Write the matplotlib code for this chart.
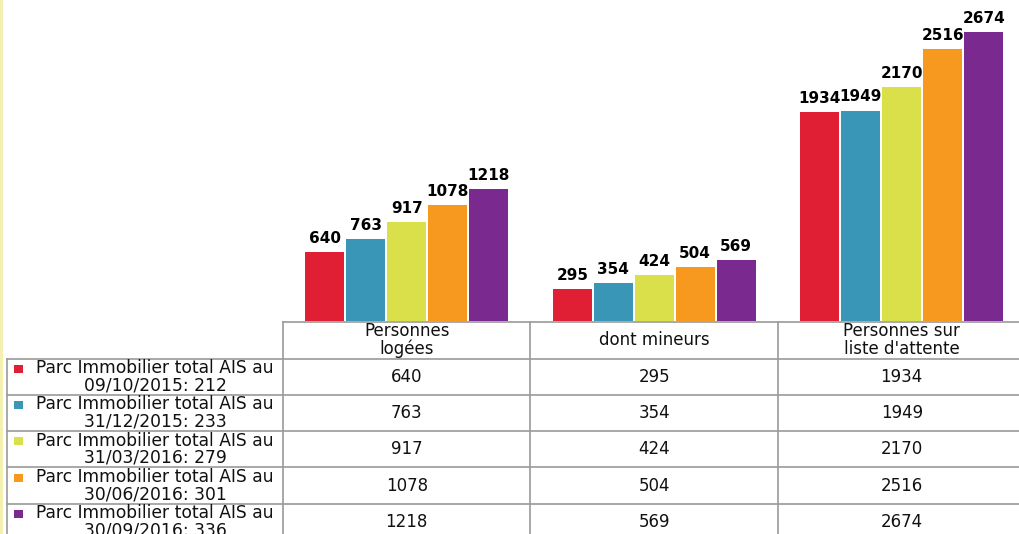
import matplotlib.pyplot as plt
from matplotlib.patches import Rectangle

# données
categories = ["Personnes\nlogées", "dont mineurs", "Personnes sur\nliste d'attente"]
series = [
    "Parc Immobilier total AIS au\n09/10/2015: 212",
    "Parc Immobilier total AIS au\n31/12/2015: 233",
    "Parc Immobilier total AIS au\n31/03/2016: 279",
    "Parc Immobilier total AIS au\n30/06/2016: 301",
    "Parc Immobilier total AIS au\n30/09/2016: 336",
]
logees = [640, 763, 917, 1078, 1218]
mineurs = [295, 354, 424, 504, 569]
attente = [1934, 1949, 2170, 2516, 2674]
colors = ["#E01F35", "#3A96B7", "#D9E04A", "#F7981F", "#7A2A8E"]

values = [[a, b, c] for a, b, c in zip(logees, mineurs, attente)]

# mise en page (pixels)
W, H = 1019, 534
X0, COLW, BASE = 283, 247.5, 321
SCALE = 0.108          # px par unité
YMAX = 2900
ROW0, ROWH = 358.5, 36.3
LEFT = 7.5
GRID = "#9a9a9a"

fig = plt.figure(figsize=(W / 100, H / 100), dpi=100)

# ---- barres ----
ax = fig.add_axes([X0 / W, (H - BASE) / H, 3 * COLW / W, YMAX * SCALE / H])
slot = 41 / COLW
bw = 39 / COLW
for j, (vals, c) in enumerate(zip(values, colors)):
    xs = [i + 0.5 + (j - 2) * slot for i in range(3)]
    bars = ax.bar(xs, vals, width=bw, color=c, linewidth=0)
    for b, v in zip(bars, vals):
        ax.annotate(str(v), (b.get_x() + b.get_width() / 2, v), xytext=(0, 6.5),
                    textcoords="offset points", ha="center", va="baseline",
                    fontsize=11, fontweight="bold", color="#000000")
ax.set_xlim(0, 3)
ax.set_ylim(0, YMAX)
ax.axis("off")

# ---- tableau de données ----
tab = fig.add_axes([0, 0, 1, 1])
tab.set_xlim(0, W)
tab.set_ylim(H, 0)
tab.axis("off")
tab.patch.set_alpha(0)

# bande jaune à gauche
tab.add_patch(Rectangle((0, 0), 3.5, H, color="#F4F1B0", lw=0))

# grille
tab.plot([X0, W], [BASE + 1, BASE + 1], color=GRID, lw=1.2)
for k in range(len(series)):
    y = ROW0 + k * ROWH
    tab.plot([LEFT, W], [y, y], color=GRID, lw=1.2)
for i in range(3):
    x = X0 + i * COLW
    tab.plot([x, x], [BASE + 1, H], color=GRID, lw=1.2)
tab.plot([LEFT, LEFT], [ROW0, H], color=GRID, lw=1.2)

# en-têtes de colonnes
for i, cat in enumerate(categories):
    tab.text(X0 + (i + 0.5) * COLW, 340, cat, ha="center", va="center",
             fontsize=12, linespacing=0.95, color="#111111")

# lignes : légende + valeurs
for j, (name, vals, c) in enumerate(zip(series, values, colors)):
    yc = ROW0 + (j + 0.5) * ROWH
    tab.add_patch(Rectangle((14, yc - 12), 9, 8, color=c, lw=0))
    tab.text(155, yc, name, ha="center", va="center", multialignment="center",
             fontsize=12.3, linespacing=0.95, color="#111111")
    for i, v in enumerate(vals):
        tab.text(X0 + (i + 0.5) * COLW, yc, str(v), ha="center", va="center",
                 fontsize=12, color="#111111")

fig.savefig("out.png", dpi=100)
